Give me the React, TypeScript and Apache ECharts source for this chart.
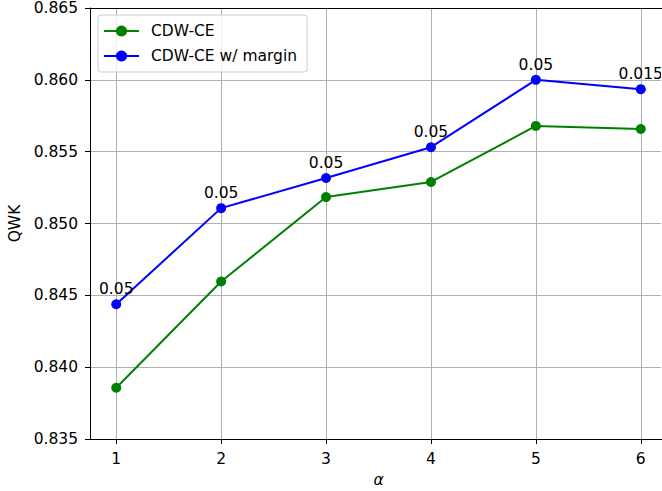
import React, { useEffect, useRef } from "react";
import * as echarts from "echarts";

const alphas = [1, 2, 3, 4, 5, 6];
const cdwCe = [0.83857, 0.84596, 0.85184, 0.85289, 0.85679, 0.85658];
const cdwCeMargin = [0.84438, 0.85107, 0.85317, 0.85531, 0.86, 0.85935];
const marginLabels = ["0.05", "0.05", "0.05", "0.05", "0.05", "0.015"];

const FONT = "DejaVu Sans";
const FS = 15.5;

export default function App() {
  const ref = useRef<HTMLDivElement>(null);
  useEffect(() => {
    if (!ref.current) return;
    const chart = echarts.init(ref.current, undefined, { renderer: "svg" });
    chart.setOption({
      animation: false,
      textStyle: { fontFamily: FONT },
      grid: {
        left: 90,
        top: 8,
        width: 577,
        height: 431,
        outerBoundsMode: "none",
        containLabel: false,
        show: false,
      },
      legend: {
        left: 98,
        top: 15,
        orient: "vertical",
        itemWidth: 35,
        itemHeight: 14,
        itemGap: 9,
        padding: [8, 10, 8, 5],
        backgroundColor: "rgba(255,255,255,0.8)",
        borderColor: "#cccccc",
        borderWidth: 1,
        borderRadius: 3,
        textStyle: { fontFamily: FONT, fontSize: FS, color: "#000", padding: [0, 0, 0, 7] },
        data: ["CDW-CE", "CDW-CE w/ margin"],
      },
      graphic: [
        {
          type: "rect",
          left: 661,
          top: 9,
          z: 100,
          silent: true,
          shape: { width: 3, height: 429 },
          style: { fill: "#ffffff" },
        },
      ],
      xAxis: [
        {
          type: "value",
          min: 0.75,
          max: 6.25,
          name: "α",
          nameLocation: "middle",
          nameGap: 30,
          nameTextStyle: { fontFamily: FONT, fontSize: FS, fontStyle: "italic", color: "#000" },
          axisLine: { show: true, lineStyle: { color: "#000", width: 1 } },
          axisTick: { show: true, length: 5, customValues: alphas, lineStyle: { color: "#000" } },
          axisLabel: {
            customValues: alphas,
            margin: 12,
            fontFamily: FONT,
            fontSize: FS,
            color: "#000",
            formatter: (v: number) => String(v),
          },
          splitLine: { show: true, lineStyle: { color: "#b0b0b0", width: 1 } },
        },
        {
          type: "value",
          position: "top",
          min: 0.75,
          max: 6.25,
          axisLine: { show: true, onZero: false, lineStyle: { color: "#000", width: 1 } },
          axisTick: { show: false },
          axisLabel: { show: false },
          splitLine: { show: false },
        },
      ],
      yAxis: {
        type: "value",
        min: 0.835,
        max: 0.865,
        interval: 0.005,
        name: "QWK",
        nameLocation: "middle",
        nameRotate: 90,
        nameGap: 65,
        nameTextStyle: { fontFamily: FONT, fontSize: FS, color: "#000" },
        axisLine: { show: true, onZero: false, lineStyle: { color: "#000", width: 1 } },
        axisTick: { show: true, length: 5, lineStyle: { color: "#000" } },
        axisLabel: {
          margin: 12,
          fontFamily: FONT,
          fontSize: FS,
          color: "#000",
          formatter: (v: number) => v.toFixed(3),
        },
        splitLine: { show: true, lineStyle: { color: "#b0b0b0", width: 1 } },
      },
      series: [
        {
          name: "CDW-CE",
          type: "line",
          xAxisIndex: 0,
          data: alphas.map((a, i) => [a, cdwCe[i]]),
          symbol: "circle",
          symbolSize: 10,
          lineStyle: { color: "#008000", width: 2 },
          itemStyle: { color: "#008000" },
        },
        {
          name: "CDW-CE w/ margin",
          type: "line",
          xAxisIndex: 0,
          data: alphas.map((a, i) => [a, cdwCeMargin[i]]),
          symbol: "circle",
          symbolSize: 10,
          lineStyle: { color: "#0000ff", width: 2 },
          itemStyle: { color: "#0000ff" },
          label: {
            show: true,
            position: "top",
            distance: 2,
            fontFamily: FONT,
            fontSize: FS,
            color: "#000",
            formatter: (p: any) => marginLabels[p.dataIndex],
          },
        },
      ],
    });
    return () => chart.dispose();
  }, []);
  return (
    <div
      ref={ref}
      style={{ position: "fixed", left: 0, top: 0, width: 662, height: 491, background: "#fff" }}
    />
  );
}
